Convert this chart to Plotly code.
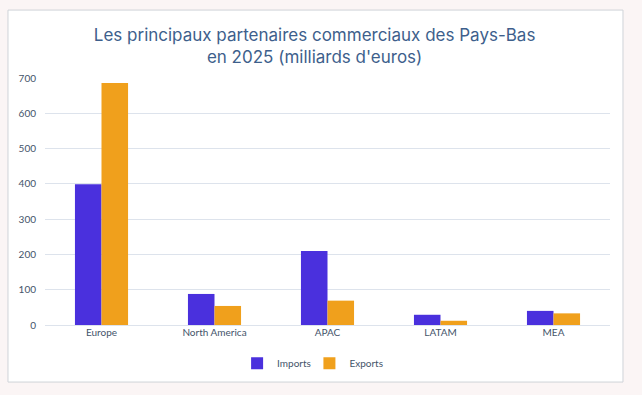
import plotly.graph_objects as go

categories = ["Europe", "North America", "APAC", "LATAM", "MEA"]
imports = [399, 88, 210, 29, 40]
exports = [686, 54, 69, 12, 33]
y_ticks = [0, 100, 200, 300, 400, 500, 600, 700]

TEXT = "#44546a"
fig = go.Figure()
fig.add_trace(go.Bar(name="Imports", x=categories, y=imports, marker_color="#4a30dd",
                     marker_line_width=0, legend="legend", showlegend=True))
fig.add_trace(go.Bar(name="Exports", x=categories, y=exports, marker_color="#f0a01c",
                     marker_line_width=0, legend="legend2", showlegend=True))

leg_common = dict(orientation="h", xanchor="left", y=-0.155, yanchor="middle",
                  font=dict(size=10, color=TEXT), bgcolor="rgba(0,0,0,0)")

fig.update_layout(
    width=642, height=395,
    margin=dict(l=45, r=32, t=78, b=70),
    paper_bgcolor="#fbf5f5",
    plot_bgcolor="rgba(0,0,0,0)",
    showlegend=True,
    barmode="group", bargap=0.53, bargroupgap=0,
    title=dict(text="Les principaux partenaires commerciaux des Pays-Bas<br>en 2025 (milliards d'euros)",
               x=0.49, xanchor="center", y=0.896, yanchor="middle",
               font=dict(family="Inter", size=17, color="#3e5f8c")),
    font=dict(family="Lato", size=10, color=TEXT),
    legend=dict(x=0.340, **leg_common),
    legend2=dict(x=0.468, **leg_common),
    shapes=[dict(type="rect", xref="paper", yref="paper", x0=-0.0655, x1=1.023,
                 y0=-0.231, y1=1.275, fillcolor="white",
                 line=dict(color="#cfd3d8", width=1), layer="below")],
    xaxis=dict(showgrid=False, showline=False, ticks="", tickfont=dict(size=10, color=TEXT)),
    yaxis=dict(range=[0, 700], tickvals=y_ticks, showgrid=True, gridcolor="#dde3ec",
               gridwidth=1.2, zeroline=True, zerolinecolor="#dde3ec", zerolinewidth=1.2,
               ticks="", ticklabelstandoff=8, tickfont=dict(size=10, color=TEXT)),
)

fig.write_html("out.html", config={"displayModeBar": False},
               post_script="document.body.style.margin='0';")
